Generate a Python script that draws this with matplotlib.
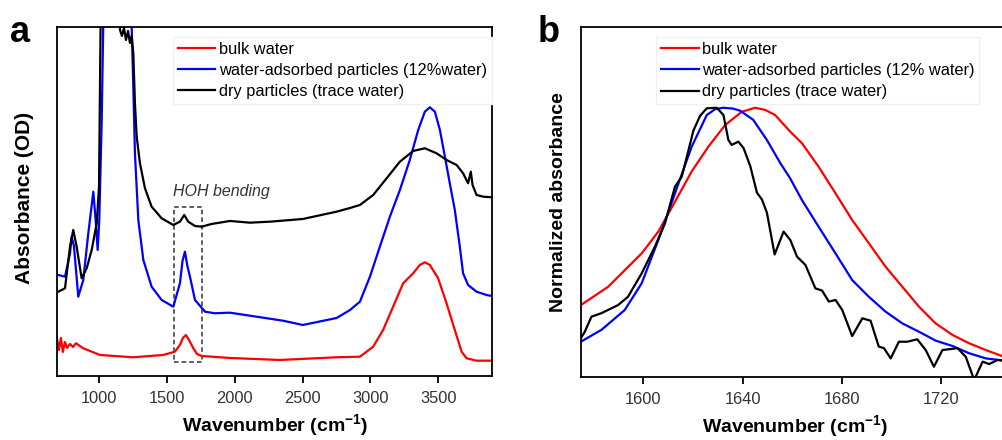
import matplotlib
matplotlib.use("Agg")
import matplotlib.pyplot as plt
from matplotlib.patches import Rectangle

plt.rcParams['font.family'] = ['Liberation Sans', 'DejaVu Sans']
plt.rcParams['mathtext.fontset'] = 'custom'
plt.rcParams['mathtext.rm'] = 'Liberation Sans'
plt.rcParams['mathtext.bf'] = 'Liberation Sans:bold'

# ---- panel a: full spectra (arbitrary OD, curves offset as in the figure)
bulk_a_x = [690, 702, 717, 731, 747, 762, 784, 806, 828, 857, 882, 1005, 1249, 1472, 1558,
            1595, 1617, 1639, 1662, 1694, 1721, 1755, 1964, 2333, 2751, 2923, 3021, 3094,
            3168, 3242, 3316, 3365, 3402, 3439, 3500, 3562, 3623, 3673, 3710, 3783, 3894]
bulk_a_y = [0.36, 0.26, 0.38, 0.24, 0.34, 0.28, 0.32, 0.29, 0.327, 0.30, 0.277, 0.21, 0.187,
            0.21, 0.243, 0.31, 0.38, 0.41, 0.36, 0.277, 0.22, 0.20, 0.18, 0.16, 0.187, 0.193,
            0.293, 0.46, 0.693, 0.927, 1.027, 1.11, 1.137, 1.11, 0.977, 0.727, 0.46, 0.243,
            0.177, 0.153, 0.153]

wet_a_x = [690, 698, 747, 784, 796, 813, 845, 882, 919, 956, 973, 988, 1000, 1018, 1029,
           1038, 1226, 1239, 1251, 1263, 1288, 1325, 1386, 1460, 1546, 1595, 1614, 1632,
           1650, 1669, 1706, 1780, 1853, 1964, 2111, 2355, 2502, 2751, 2850, 2923, 2997,
           3070, 3144, 3218, 3291, 3353, 3402, 3439, 3476, 3513, 3550, 3586, 3623, 3660,
           3684, 3721, 3783, 3857, 3894]
wet_a_y = [1.01, 1.01, 0.993, 1.227, 1.393, 1.30, 0.793, 0.96, 1.427, 1.843, 1.56, 1.26,
           1.56, 2.56, 3.493, 4.0, 4.0, 3.493, 2.893, 2.227, 1.56, 1.16, 0.893, 0.76, 0.693,
           0.927, 1.15, 1.243, 1.10, 0.993, 0.76, 0.643, 0.627, 0.633, 0.603, 0.553, 0.51,
           0.58, 0.66, 0.743, 0.993, 1.293, 1.593, 1.86, 2.16, 2.46, 2.643, 2.687, 2.643,
           2.46, 2.193, 1.927, 1.66, 1.293, 1.027, 0.91, 0.843, 0.81, 0.80]

dry_a_x = [690, 698, 747, 784, 808, 833, 870, 907, 944, 981, 998, 1013, 1138, 1153, 1167,
           1182, 1197, 1212, 1226, 1239, 1251, 1263, 1276, 1300, 1337, 1386, 1460, 1546,
           1595, 1627, 1656, 1706, 1755, 1829, 1964, 2112, 2260, 2502, 2751, 2850, 2923,
           3021, 3120, 3218, 3316, 3402, 3488, 3562, 3636, 3684, 3721, 3741, 3754, 3783,
           3832, 3894]
dry_a_y = [0.843, 0.843, 0.877, 1.293, 1.46, 1.293, 0.977, 1.077, 1.26, 1.527, 1.893, 4.0,
           4.0, 3.46, 3.40, 3.48, 3.36, 3.45, 3.33, 3.40, 3.227, 2.727, 2.393, 2.127, 1.877,
           1.693, 1.577, 1.51, 1.543, 1.61, 1.543, 1.50, 1.493, 1.52, 1.55, 1.533, 1.543,
           1.57, 1.643, 1.68, 1.71, 1.81, 1.977, 2.143, 2.25, 2.277, 2.227, 2.16, 2.11,
           2.027, 1.927, 2.043, 1.91, 1.81, 1.793, 1.787]

# ---- panel b: normalized HOH bending band
bulk_b_x = [1574.9, 1585.9, 1599.4, 1606.1, 1612.8, 1619.5, 1626.2, 1633.0, 1639.7, 1645.1,
            1649.1, 1653.1, 1659.2, 1663.9, 1670.6, 1677.4, 1684.1, 1690.8, 1697.5, 1704.3,
            1711.0, 1717.7, 1724.5, 1731.2, 1737.9, 1745.2]
bulk_b_y = [0.267, 0.335, 0.459, 0.540, 0.651, 0.763, 0.855, 0.936, 0.985, 1.0, 0.992,
            0.973, 0.911, 0.868, 0.781, 0.682, 0.583, 0.497, 0.410, 0.335, 0.261, 0.199,
            0.156, 0.125, 0.100, 0.075]

wet_b_x = [1574.9, 1583.2, 1592.6, 1599.4, 1606.1, 1612.8, 1619.5, 1625.6, 1629.0, 1632.3,
           1636.0, 1639.0, 1644.3, 1649.8, 1655.2, 1659.0, 1663.9, 1670.6, 1677.4, 1684.1,
           1690.8, 1697.5, 1704.3, 1711.0, 1717.7, 1724.5, 1731.2, 1737.9, 1745.2]
wet_b_y = [0.131, 0.175, 0.249, 0.348, 0.509, 0.682, 0.855, 0.973, 0.995, 1.0, 0.997,
           0.989, 0.955, 0.880, 0.794, 0.740, 0.657, 0.558, 0.459, 0.360, 0.298, 0.243,
           0.199, 0.168, 0.135, 0.115, 0.088, 0.069, 0.061]

dry_b_x = [1574.9, 1576.5, 1579.2, 1583.2, 1589.9, 1593.9, 1599.4, 1604.7, 1608.8, 1612.8,
           1615.5, 1617.5, 1620.2, 1622.9, 1625.6, 1629.6, 1632.3, 1634.3, 1635.6, 1638.3,
           1640.4, 1643.1, 1645.8, 1647.8, 1649.8, 1652.9, 1656.5, 1659.2, 1661.9, 1665.3,
           1669.3, 1672.0, 1674.7, 1677.4, 1680.1, 1684.1, 1688.2, 1691.5, 1694.8, 1696.9,
           1699.6, 1702.9, 1706.3, 1710.3, 1713.7, 1717.0, 1720.4, 1726.5, 1729.8, 1733.2,
           1736.6, 1739.2, 1742.6, 1745.2]
dry_b_y = [0.144, 0.168, 0.224, 0.237, 0.267, 0.298, 0.385, 0.484, 0.571, 0.707, 0.744,
           0.815, 0.915, 0.970, 0.998, 1.0, 0.973, 0.880, 0.862, 0.874, 0.850, 0.783, 0.684,
           0.659, 0.610, 0.455, 0.540, 0.509, 0.447, 0.416, 0.329, 0.321, 0.280, 0.286,
           0.249, 0.152, 0.218, 0.209, 0.113, 0.107, 0.069, 0.131, 0.131, 0.140, 0.100,
           0.038, 0.100, 0.107, 0.075, -0.011, 0.057, 0.048, 0.063, 0.061]

ticks_a = [1000, 1500, 2000, 2500, 3000, 3500]
ticks_b = [1600, 1640, 1680, 1720]
hoh_box = (1550, 0.143, 205, 1.55)

fig = plt.figure(figsize=(10.03, 4.4), dpi=100)
ax1 = fig.add_axes([0.0571, 0.1455, 0.4331, 0.7939])
ax2 = fig.add_axes([0.5793, 0.1432, 0.4237, 0.7955])

lw = 1.6
ax1.plot(bulk_a_x, bulk_a_y, color='#ff0000', lw=lw, label='bulk water')
ax1.plot(wet_a_x, wet_a_y, color='#0000ff', lw=lw, label='water-adsorbed particles (12%water)')
ax1.plot(dry_a_x, dry_a_y, color='black', lw=lw, label='dry particles (trace water)')
ax1.add_patch(Rectangle(hoh_box[:2], hoh_box[2], hoh_box[3], fill=False,
                        ls=(0, (3, 2)), lw=1.1, ec='#333333'))
ax1.text(1545, 1.80, 'HOH bending', fontstyle='italic', fontsize=11.5, color='#333333')
ax1.set_xlim(690, 3895)
ax1.set_ylim(0, 3.493)
ax1.set_xticks(ticks_a)

ax2.plot(bulk_b_x, bulk_b_y, color='#ff0000', lw=lw, label='bulk water')
ax2.plot(wet_b_x, wet_b_y, color='#0000ff', lw=lw, label='water-adsorbed particles (12% water)')
ax2.plot(dry_b_x, dry_b_y, color='black', lw=lw, label='dry particles (trace water)')
ax2.set_xlim(1575, 1746)
ax2.set_ylim(0, 1.3)
ax2.set_xticks(ticks_b)

for ax in (ax1, ax2):
    ax.set_yticks([])
    for s in ax.spines.values():
        s.set_linewidth(1.3)
    ax.tick_params(axis='x', direction='out', length=5, width=1.3,
                   labelsize=11.8, labelcolor='#333333', pad=5.5)
    ax.set_xlabel(r'Wavenumber (cm$^{\mathbf{-1}}$)', fontsize=14, fontweight='bold')

ax1.xaxis.set_label_coords(0.501, -0.105)
ax2.xaxis.set_label_coords(0.505, -0.105)
ax1.set_ylabel('Absorbance (OD)', fontsize=15, fontweight='bold')
ax1.yaxis.set_label_coords(-0.053, 0.51)
ax2.set_ylabel('Normalized absorbance', fontsize=14, fontweight='bold')
ax2.yaxis.set_label_coords(-0.0325, 0.5)

leg_kw = dict(loc='upper left', fontsize=11.8, handlelength=2.3, handletextpad=0.2,
              labelspacing=0.38, borderpad=0.3, fancybox=False, framealpha=1)
l1 = ax1.legend(bbox_to_anchor=(0.247, 0.995), **leg_kw)
l1.get_frame().set_edgecolor('#f0f0f0')
l2 = ax2.legend(bbox_to_anchor=(0.157, 0.995), **leg_kw)
l2.get_frame().set_edgecolor('#f0f0f0')

fig.text(0.010, 0.905, 'a', fontsize=26, fontweight='bold')
fig.text(0.536, 0.905, 'b', fontsize=26, fontweight='bold')

fig.savefig('out.png', dpi=100)
